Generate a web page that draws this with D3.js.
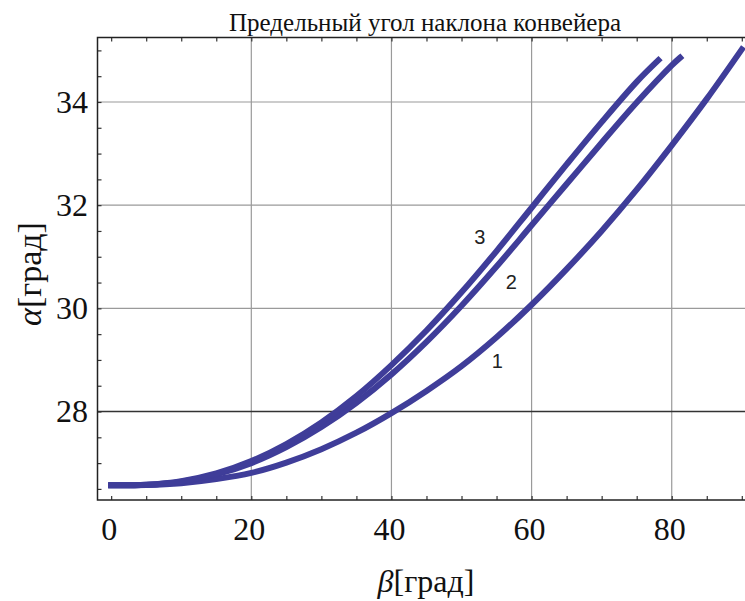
<!DOCTYPE html>
<html>
<head>
<meta charset="utf-8">
<script src="https://cdn.jsdelivr.net/npm/d3@7"></script>
<style>
  body { margin: 0; background: #fff; }
  svg { display: block; }
  .tick-label { font-family: "Liberation Serif", "Times New Roman", serif; font-size: 32px; fill: #111; }
</style>
</head>
<body>
<div id="chart"></div>
<script>
// Data
const title = "Предельный угол наклона конвейера";
const xLabel = "β";
const yLabel = "α";
const unitLabel = "[град]";

const xTicks = [0, 20, 40, 60, 80];
const yTicks = [28, 30, 32, 34];
const xGrid = [20, 40, 60, 80];
const yGrid = [30, 32, 34];

const curve1X = [0, 5, 10, 15, 20, 25, 30, 35, 40, 45, 50, 55, 60, 65, 70, 75, 80, 85, 90];
const curve1Y = [26.57, 26.575, 26.61, 26.69, 26.81, 27.01, 27.27, 27.59, 27.97, 28.4, 28.88, 29.44, 30.07, 30.76, 31.5, 32.3, 33.16, 34.06, 35.02];

const curve2X = [0, 5, 10, 15, 20, 25, 30, 35, 40, 45, 50, 55, 60, 65, 70, 75, 80, 81.2];
const curve2Y = [26.57, 26.58, 26.64, 26.78, 27.0, 27.31, 27.7, 28.17, 28.72, 29.35, 30.05, 30.81, 31.61, 32.41, 33.21, 33.99, 34.71, 34.86];

const curve3X = [0, 5, 10, 15, 20, 25, 30, 35, 40, 45, 50, 55, 60, 65, 70, 75, 78.1];
const curve3Y = [26.57, 26.58, 26.65, 26.8, 27.04, 27.37, 27.79, 28.3, 28.9, 29.57, 30.31, 31.11, 31.95, 32.79, 33.61, 34.39, 34.81];

const curveNames = ["1", "2", "3"];
const labelX = [55.1, 57.1, 52.6];
const labelY = [28.97, 30.52, 31.39];

const series = [
  { name: "1", xs: curve1X, ys: curve1Y },
  { name: "2", xs: curve2X, ys: curve2Y },
  { name: "3", xs: curve3X, ys: curve3Y },
].map((s) => ({ name: s.name, values: s.xs.map((x, i) => ({ x, y: s.ys[i] })) }));

// Set up
const svgWidth = 745;
const svgHeight = 601;
const frame = { left: 97.5, right: 746, top: 37.5, bottom: 500 };
const lineColor = "#3f3d99";

const xScale = d3.scaleLinear().domain([-1.95, 90.6]).range([frame.left, frame.right]);
const yScale = d3.scaleLinear().domain([26.285, 35.25]).range([frame.bottom, frame.top]);

const svg = d3
  .select("#chart")
  .append("svg")
  .attr("width", svgWidth)
  .attr("height", svgHeight);

svg.append("rect").attr("width", svgWidth).attr("height", svgHeight).attr("fill", "#fff");

const g = svg.append("g");

// Grid lines
g.append("g")
  .selectAll("line")
  .data(xGrid)
  .join("line")
  .attr("x1", (d) => xScale(d))
  .attr("x2", (d) => xScale(d))
  .attr("y1", frame.top)
  .attr("y2", frame.bottom)
  .attr("stroke", "#9a9a9a")
  .attr("stroke-width", 1.2);

g.append("g")
  .selectAll("line")
  .data(yGrid)
  .join("line")
  .attr("x1", frame.left)
  .attr("x2", frame.right)
  .attr("y1", (d) => yScale(d))
  .attr("y2", (d) => yScale(d))
  .attr("stroke", "#9a9a9a")
  .attr("stroke-width", 1.2);

// Horizontal axis drawn at 28
g.append("line")
  .attr("x1", frame.left)
  .attr("x2", frame.right)
  .attr("y1", yScale(28))
  .attr("y2", yScale(28))
  .attr("stroke", "#333")
  .attr("stroke-width", 1.5);

// Frame ticks (inward), via d3 axes
const xMinor = d3.range(0, 91, 5);
const yMinor = d3.range(26.5, 35.01, 0.5);

const bottomAxis = g
  .append("g")
  .attr("transform", `translate(0,${frame.bottom})`)
  .call(d3.axisTop(xScale).tickValues(xMinor).tickSize(4).tickFormat(""));
const topAxis = g
  .append("g")
  .attr("transform", `translate(0,${frame.top})`)
  .call(d3.axisBottom(xScale).tickValues(xMinor).tickSize(4).tickFormat(""));
const leftAxis = g
  .append("g")
  .attr("transform", `translate(${frame.left},0)`)
  .call(d3.axisRight(yScale).tickValues(yMinor).tickSize(4).tickFormat(""));
[bottomAxis, topAxis, leftAxis].forEach((a) => {
  a.select(".domain").remove();
  a.selectAll("line").attr("stroke", "#333").attr("stroke-width", 1.2);
});

// Curves
const line = d3
  .line()
  .x((d) => xScale(d.x))
  .y((d) => yScale(d.y))
  .curve(d3.curveCatmullRom);

g.append("g")
  .selectAll("path")
  .data(series)
  .join("path")
  .attr("fill", "none")
  .attr("stroke", lineColor)
  .attr("stroke-width", 6)
  .attr("stroke-linecap", "square")
  .attr("d", (d) => line(d.values));

// Frame
g.append("rect")
  .attr("x", frame.left)
  .attr("y", frame.top)
  .attr("width", frame.right - frame.left)
  .attr("height", frame.bottom - frame.top)
  .attr("fill", "none")
  .attr("stroke", "#222")
  .attr("stroke-width", 1.5);

// Curve numbers
g.append("g")
  .selectAll("text")
  .data(curveNames)
  .join("text")
  .attr("x", (d, i) => xScale(labelX[i]))
  .attr("y", (d, i) => yScale(labelY[i]))
  .attr("text-anchor", "middle")
  .attr("dominant-baseline", "central")
  .attr("font-family", "'Liberation Sans', Arial, sans-serif")
  .attr("font-size", 20)
  .attr("fill", "#222")
  .text((d) => d);

// Tick labels
g.append("g")
  .selectAll("text")
  .data(xTicks)
  .join("text")
  .attr("class", "tick-label")
  .attr("x", (d) => xScale(d) - 2)
  .attr("y", 540)
  .attr("text-anchor", "middle")
  .text((d) => d);

g.append("g")
  .selectAll("text")
  .data(yTicks)
  .join("text")
  .attr("class", "tick-label")
  .attr("x", 88)
  .attr("y", (d) => yScale(d))
  .attr("dy", "0.34em")
  .attr("text-anchor", "end")
  .text((d) => d);

// Title
svg.append("text")
  .attr("x", 425)
  .attr("y", 31)
  .attr("text-anchor", "middle")
  .attr("font-family", "'Liberation Serif', 'Times New Roman', serif")
  .attr("font-size", 25)
  .attr("textLength", 392)
  .attr("lengthAdjust", "spacingAndGlyphs")
  .attr("fill", "#111")
  .text(title);

// Axis labels
const xTitle = svg
  .append("text")
  .attr("x", 426)
  .attr("y", 592)
  .attr("text-anchor", "middle")
  .attr("font-family", "'Liberation Serif', 'Times New Roman', serif")
  .attr("font-size", 32)
  .attr("fill", "#111");
xTitle.append("tspan").attr("font-style", "italic").text(xLabel);
xTitle.append("tspan").text(unitLabel);

const yTitle = svg
  .append("text")
  .attr("transform", "translate(41,274) rotate(-90)")
  .attr("text-anchor", "middle")
  .attr("font-family", "'Liberation Serif', 'Times New Roman', serif")
  .attr("font-size", 34)
  .attr("fill", "#111");
yTitle.append("tspan").attr("font-style", "italic").text(yLabel);
yTitle.append("tspan").text(unitLabel);
</script>
</body>
</html>
